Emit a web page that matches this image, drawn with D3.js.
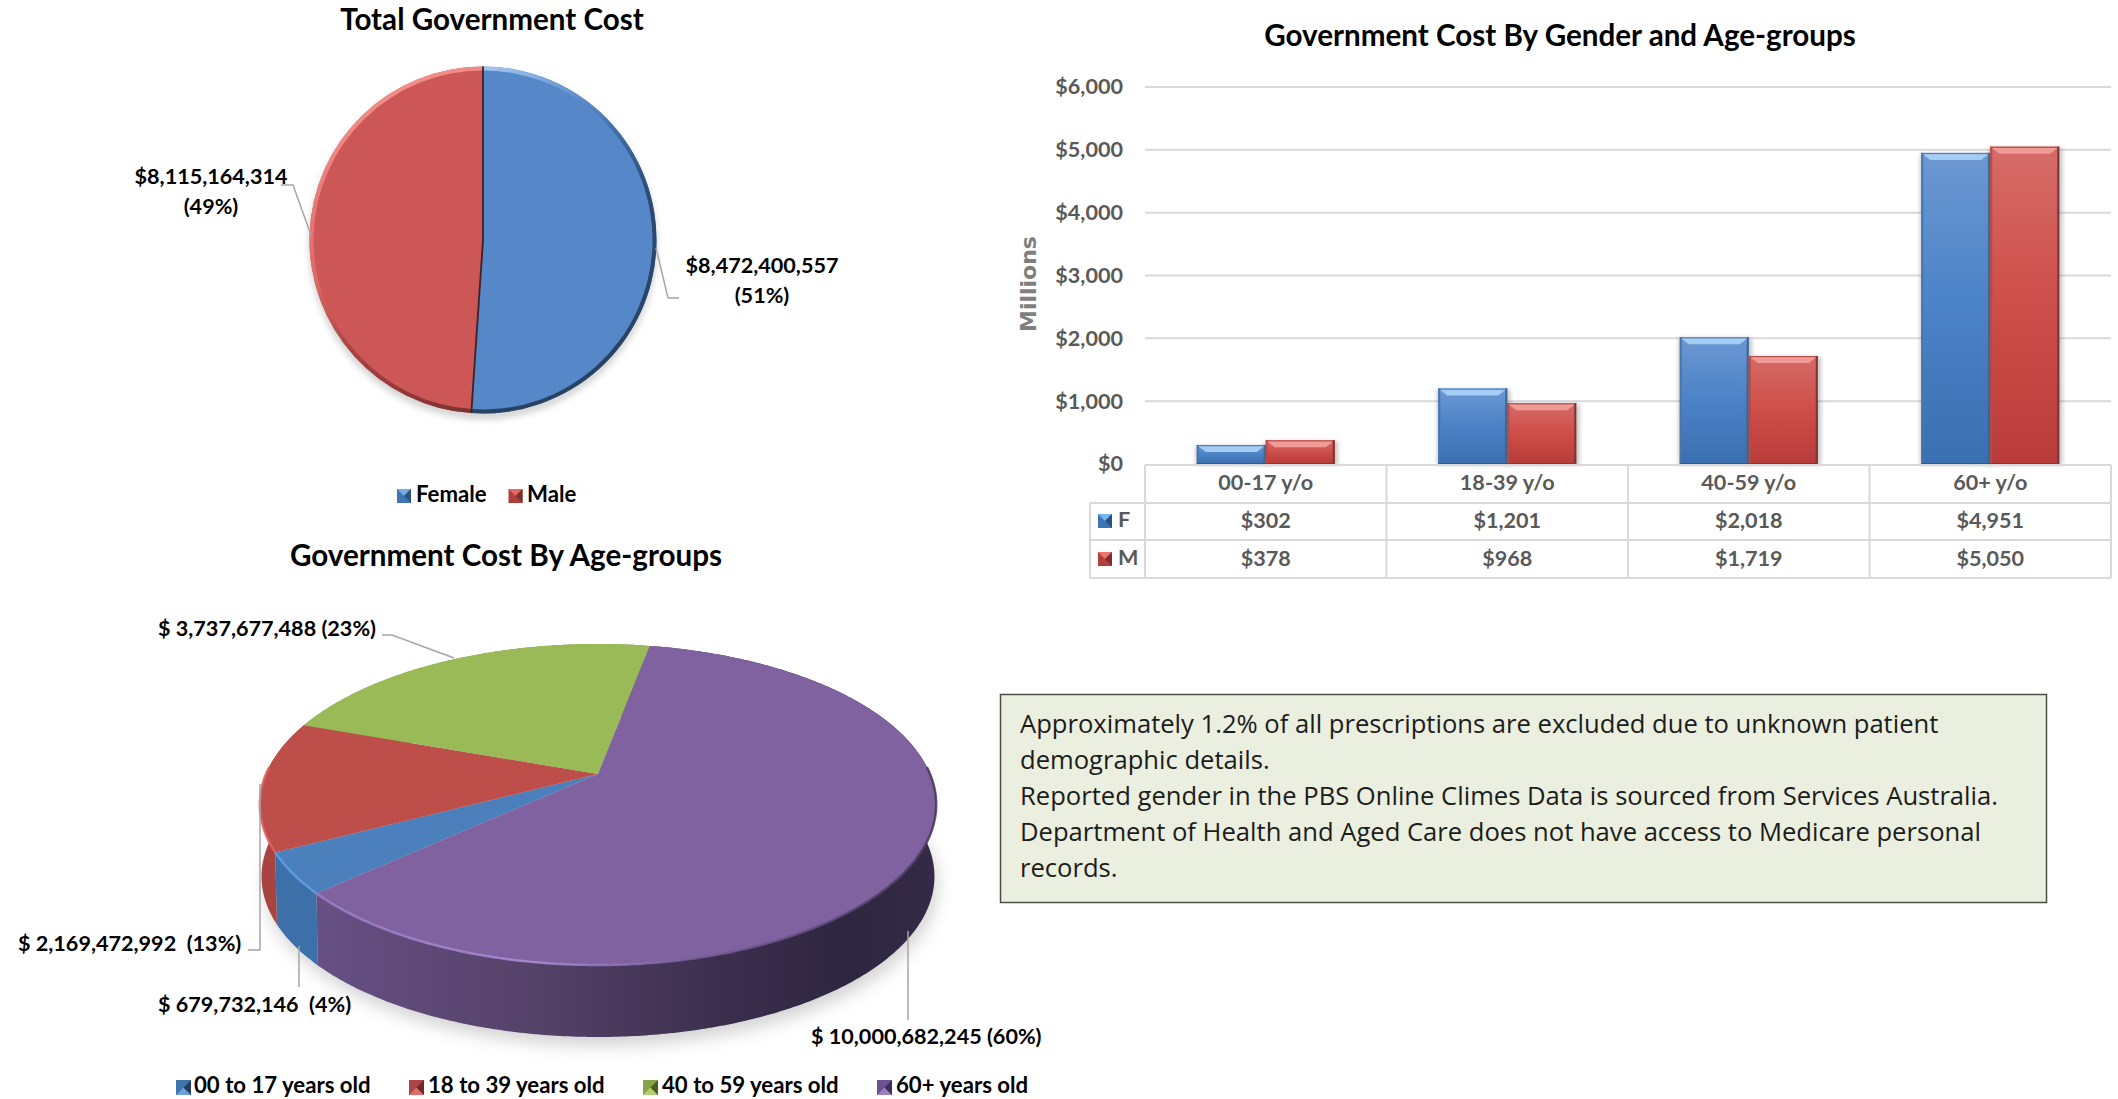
<!DOCTYPE html>
<html><head><meta charset="utf-8">
<style>html,body{margin:0;padding:0;background:#fff;overflow:hidden}svg{display:block}text{font-family:Lato,"Open Sans",sans-serif;white-space:pre}</style>
<script src="https://cdn.jsdelivr.net/npm/d3@7"></script>
</head><body><div id="c"></div>
<script>
// ---- data ----
const genderNames = ["Female","Male"];
const genderCost = [8472400557,8115164314];
const genderPct = [51,49];
const genderColors = ["#5587c9","#cd5756"];
const ageNames = ["00 to 17 years old","18 to 39 years old","40 to 59 years old","60+ years old"];
const ageCost = [679732146,2169472992,3737677488,10000682245];
const agePct = [4,13,23,60];
const ageTop = ["#4c80bd","#bd4e4a","#9aba58","#8062a0"];
const ageRim = ["#5d9fe4","#e2625c","#aecb6c","url(#rimP)"];
const ageWall = ["#3d6fa8","#a84341","#7f9a48","#604b7c"];
const barCats = ["00-17 y/o","18-39 y/o","40-59 y/o","60+ y/o"];
const femaleM = [302,1201,2018,4951];
const maleM = [378,968,1719,5050];
const yTicks = [0,1000,2000,3000,4000,5000,6000];
const noteLines = ["Approximately 1.2% of all prescriptions are excluded due to unknown patient","demographic details.","Reported gender in the PBS Online Climes Data is sourced from Services Australia.","Department of Health and Aged Care does not have access to Medicare personal","records."];

const svg = d3.select("#c").append("svg").attr("width",2118).attr("height",1099);
const defs = svg.append("defs");
const blur=(id,s)=>defs.append("filter").attr("id",id).attr("x","-20%").attr("y","-20%").attr("width","140%").attr("height","140%").append("feGaussianBlur").attr("stdDeviation",s);
blur("b3",3); blur("b8",8); blur("b2",2);
function lin(id,attrs,stops){const g=defs.append("linearGradient").attr("id",id);Object.entries(attrs).forEach(([k,v])=>g.attr(k,v));stops.forEach(s=>g.append("stop").attr("offset",s[0]).attr("stop-color",s[1]));}
const TITLE=29.6, LABEL=21.6, LEGEND=22.2;
const title=(t,x,y)=>svg.append("text").attr("x",x).attr("y",y).attr("text-anchor","middle").attr("font-size",TITLE).attr("font-weight",700).attr("fill","#000").text(t);
const lab=(t,x,y,a="middle",fs=LABEL)=>svg.append("text").attr("x",x).attr("y",y).attr("text-anchor",a).attr("font-size",fs).attr("font-weight",700).attr("fill","#000").text(t);
const leader=(pts)=>svg.append("path").attr("d",d3.line()(pts)).attr("fill","none").attr("stroke","#a6a6a6").attr("stroke-width",1.5);
function swatch(x,y,s,base,light,dark,kind){
  const g=svg.append("g");
  g.append("rect").attr("x",x).attr("y",y).attr("width",s).attr("height",s).attr("fill",base);
  const c=[x+s/2,y+s/2];
  g.append("path").attr("d",d3.line()(kind==="top"?[[x,y],[x+s,y],c]:[[x,y+s],[x+s,y+s],c])).attr("fill",light);
  g.append("path").attr("d",d3.line()([[x+s,y],[x+s,y+s],c])).attr("fill",dark);
  return g;
}
const fmt=d3.format(",");

// ---- Total pie ----
title("Total Government Cost",492,30);
const p1={x:483,y:240,r:173.5};
lin("rimF",{gradientUnits:"userSpaceOnUse",x1:0,y1:-173,x2:117,y2:160},[[0,"#a6c8f2"],[.12,"#6f9bd6"],[.3,"#3f6ea8"],[.5,"#2c4a73"],[1,"#27415f"]]);
lin("rimM",{gradientUnits:"userSpaceOnUse",x1:-143,y1:-140,x2:-13,y2:172},[[0,"#f4908c"],[.45,"#e06a66"],[.7,"#a84442"],[1,"#7c3230"]]);
const pie1=d3.pie().sort(null)(genderCost);
const g1=svg.append("g").attr("transform",`translate(${p1.x},${p1.y})`);
g1.append("circle").attr("r",p1.r+1).attr("cy",5).attr("fill","#777").attr("opacity",.3).attr("filter","url(#b3)");
const arc1=d3.arc().innerRadius(0).outerRadius(p1.r);
const rim1=d3.arc().innerRadius(p1.r-4).outerRadius(p1.r);
g1.selectAll("path.s").data(pie1).join("path").attr("class","s").attr("d",arc1).attr("fill",(d,i)=>genderColors[i]);
g1.selectAll("path.r").data(pie1).join("path").attr("class","r").attr("d",rim1).attr("fill",(d,i)=>i?"url(#rimM)":"url(#rimF)");
g1.selectAll("line").data(pie1).join("line").attr("x1",0).attr("y1",0)
  .attr("x2",d=>p1.r*Math.sin(d.startAngle)).attr("y2",d=>-p1.r*Math.cos(d.startAngle)).attr("stroke","#3a2424").attr("stroke-width",1.8);
leader([[281,185],[293,185],[311,235]]);
leader([[656,248],[668,298],[679,298]]);
const gx=[762,211], gy=[273,184];
genderCost.forEach((v,i)=>{lab("$"+fmt(v),gx[i],gy[i]);lab(`(${genderPct[i]}%)`,gx[i],gy[i]+30);});
const legX=[[397,416],[508.5,527]];
genderNames.forEach((n,i)=>{
  swatch(legX[i][0],489,14,i?"#b03f3d":"#3f74b5",i?"#e26a66":"#77a9e6",i?"#7c2f2d":"#2c5380","top");
  lab(n,legX[i][1],502,"start",LEGEND);
});

// ---- Age pie (perspective) ----
title("Government Cost By Age-groups",506,566);
const P={cx:598,cy:774,a:332,b:154.7,k:-0.19,depth:72,shrink:.995};
const proj=(t,drop=false)=>{const u=Math.sin(t),v=-Math.cos(t),w=1+P.k*v;
  const x=P.a*u/w,y=P.b*v/w;
  return drop?[P.cx+x*P.shrink,P.cy+y+P.depth]:[P.cx+x,P.cy+y];};
const startA=227.7*Math.PI/180;
const pie2=d3.pie().sort(null).startAngle(startA).endAngle(startA+2*Math.PI)(ageCost);
const samples=(a0,a1)=>{const n=Math.max(2,Math.ceil((a1-a0)/.01));return d3.range(n+1).map(i=>a0+(a1-a0)*i/n);};
const ell=samples(0,2*Math.PI).map(t=>proj(t,true));
svg.append("path").attr("d",d3.line().curve(d3.curveLinearClosed)(ell)).attr("transform","translate(3,9)").attr("fill","#9a9a9a").attr("opacity",.42).attr("filter","url(#b8)");
lin("wallP",{gradientUnits:"userSpaceOnUse",x1:315,y1:0,x2:936,y2:0},[[0,"#675085"],[.35,"#554269"],[.65,"#3c2f4e"],[.85,"#2e2640"],[1,"#342a47"]]);
lin("rimP",{gradientUnits:"userSpaceOnUse",x1:315,y1:0,x2:936,y2:0},[[0,"#9a7cc6"],[.35,"#a98cd6"],[.6,"#7a5f9c"],[.85,"#5a4678"],[1,"#463758"]]);
const wallFill=i=>i===3?"url(#wallP)":ageWall[i];
svg.selectAll("path.w").data(pie2).join("path").attr("class","w")
  .attr("d",d=>{const s=samples(d.startAngle,d.endAngle);return d3.line().curve(d3.curveLinearClosed)(s.map(t=>proj(t)).concat(s.slice().reverse().map(t=>proj(t,true))));})
  .attr("fill",(d,i)=>wallFill(i));
svg.selectAll("path.t").data(pie2).join("path").attr("class","t")
  .attr("d",d=>d3.line().curve(d3.curveLinearClosed)([[P.cx,P.cy]].concat(samples(d.startAngle,d.endAngle).map(t=>proj(t)))))
  .attr("fill",(d,i)=>ageTop[i]);
// soft lit rim on the near edge only
svg.selectAll("path.e").data(pie2).join("path").attr("class","e")
  .attr("d",d=>d3.line()(samples(d.startAngle,d.endAngle).filter(t=>Math.cos(t)<0.05).map(t=>proj(t))))
  .attr("fill","none").attr("stroke",(d,i)=>ageRim[i]).attr("stroke-width",2.5).attr("opacity",.85);
leader([[382,635],[392,635],[454,658]]);
leader([[248,950],[260,950],[260,784]]);
leader([[299,946],[299,987]]);
leader([[908,931],[908,1020]]);
const ageLab=[[158,1012],[18,951],[158,636],[811,1044]];
const ageSep=["  ","  "," "," "];
ageCost.forEach((v,i)=>{lab("$ "+fmt(v)+ageSep[i]+`(${agePct[i]}%)`,ageLab[i][0],ageLab[i][1],"start");});
const lx=[[176,194],[409,428],[643,662],[877,896]];
const ageSw=[["#3f74ad","#6f9fd6","#1f3f66"],["#ab4644","#dc6f6b","#6e2a29"],["#86a34a","#b4cf73","#4a5c24"],["#6d5490","#9b80bd","#3e2e55"]];
ageNames.forEach((n,i)=>{
  swatch(lx[i][0],1080,15,ageSw[i][0],ageSw[i][1],ageSw[i][2],"bot");
  lab(n,lx[i][1],1093,"start",LEGEND);
});

// ---- Bars + data table ----
title("Government Cost By Gender and Age-groups",1560,46);
const x=d3.scaleBand().domain(barCats).range([1145,2111]).paddingInner(3/7).paddingOuter(3/14);
const y=d3.scaleLinear().domain([0,6000]).range([464,87]);
const yAxis=d3.axisLeft(y).tickValues(yTicks).tickSize(0).tickPadding(0).tickFormat(d=>"$"+fmt(d));
const ya=svg.append("g").attr("transform","translate(1123,0)").call(yAxis);
ya.select(".domain").remove();
ya.selectAll("text").attr("font-size",21.6).attr("font-weight",700).attr("fill","#595959").style("font-family","Lato");
svg.append("g").selectAll("line").data(yTicks.slice(1)).join("line").attr("x1",1145).attr("x2",2111).attr("y1",y).attr("y2",y).attr("stroke","#d9d9d9").attr("stroke-width",2);
svg.append("text").attr("transform","translate(1036,284) rotate(-90)").attr("text-anchor","middle").attr("font-size",22).attr("font-weight",700).attr("fill","#7f7f7f").style("font-family","'DejaVu Sans'").text("Millions");
lin("gF",{x1:0,y1:0,x2:0,y2:1},[[0,"#6d98d3"],[.45,"#4e84c8"],[1,"#3a70b1"]]);
lin("gM",{x1:0,y1:0,x2:0,y2:1},[[0,"#d56c68"],[.45,"#cf504c"],[1,"#b83c3a"]]);
function bevelBar(cat,val,m){
  const x0=x(cat)+(m?x.bandwidth()/2:0), w=x.bandwidth()/2, yt=y(val), yb=y(0), h=yb-yt;
  const g=svg.append("g");
  g.append("rect").attr("x",x0-1).attr("y",yt+1).attr("width",w+4).attr("height",h).attr("fill","#555").attr("opacity",.35).attr("filter","url(#b2)");
  g.append("rect").attr("x",x0).attr("y",yt).attr("width",w).attr("height",h).attr("fill",m?"url(#gM)":"url(#gF)");
  const bt=Math.min(7,h/2), bs=2;
  g.append("path").attr("d",d3.line()([[x0,yt],[x0+w,yt],[x0+w-9,yt+bt],[x0+9,yt+bt]])).attr("fill",m?"#f09a96":"#a4cdf5");
  g.append("rect").attr("x",x0).attr("y",yt).attr("width",w).attr("height",1.2).attr("fill",m?"#b5504d":"#4f80bb");
  g.append("rect").attr("x",x0).attr("y",yt).attr("width",bs).attr("height",h).attr("fill",m?"#b54a47":"#4775ae");
  g.append("rect").attr("x",x0+w-bs).attr("y",yt).attr("width",bs).attr("height",h).attr("fill",m?"#7d3432":"#3b6596");
  g.append("rect").attr("x",x0).attr("y",yb-1).attr("width",w).attr("height",1.5).attr("fill",m?"#8a3433":"#2f5a8e");
}
barCats.forEach((c,i)=>{bevelBar(c,femaleM[i],0);bevelBar(c,maleM[i],1);});
// table
const colX=d3.range(5).map(i=>1145+(2111-1145)*i/4);
const tl=(a,b,c,d)=>svg.append("line").attr("x1",a).attr("y1",b).attr("x2",c).attr("y2",d).attr("stroke","#d9d9d9").attr("stroke-width",2);
tl(1145,465,2111,465);tl(1090,503,2111,503);tl(1090,540,2111,540);tl(1090,578,2111,578);
colX.forEach(cx=>tl(cx,465,cx,578));tl(1090,503,1090,578);
const tt=(t,xx,yy,a="middle")=>svg.append("text").attr("x",xx).attr("y",yy).attr("text-anchor",a).attr("font-size",21.6).attr("font-weight",700).attr("fill","#595959").text(t);
barCats.forEach((c,i)=>{const mx=colX[i]+(colX[i+1]-colX[i])/2;
  tt(c,mx,490);tt("$"+fmt(femaleM[i]),mx,528);tt("$"+fmt(maleM[i]),mx,566);});
swatch(1098,514,14,"#3f74b5","#77b4ee","#2c5380","top");tt("F",1118,527,"start");
swatch(1098,552,14,"#b03f3d","#e87874","#7c2f2d","top");tt("M",1118,565,"start");

// ---- Note box ----
svg.append("rect").attr("x",1000.5).attr("y",694.5).attr("width",1046).attr("height",208).attr("fill","#ebefdf").attr("stroke","#4a4f45").attr("stroke-width",1.5);
svg.append("g").selectAll("text").data(noteLines).join("text").attr("x",1020).attr("y",(d,i)=>733+i*36).attr("font-size",25.6).attr("fill","#1c1c1c").style("font-family","'Open Sans'").text(d=>d);
</script></body></html>
